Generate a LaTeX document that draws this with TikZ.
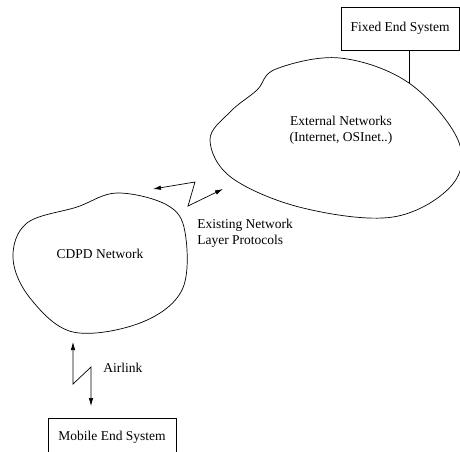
\documentclass[tikz,border=0pt]{standalone}
\usepackage{fontspec}
\setmainfont{Liberation Serif}
\usetikzlibrary{arrows.meta}
\begin{document}
\begin{tikzpicture}[x=1pt,y=-1pt,line width=0.7pt,
  font=\fontsize{13.5}{16.5}\selectfont,
  >={Latex[length=8pt,width=4.5pt]},
  endsys/.style={draw,minimum width=118pt,minimum height=43pt,inner sep=0pt},
  netcloud/.style={smooth cycle,tension=0.6}]
\useasboundingbox (0,0) rectangle (460,451);
\clip (0,0) rectangle (460,451);

\node[endsys] (fixed) at (400,28.5) {Fixed End System};
\node[endsys,minimum width=128pt,minimum height=38pt] (mobile) at (112,437) {Mobile End System};

\draw plot[netcloud] coordinates {(77,207) (117,193) (167,205) (185,232) (182,290)
  (140,323) (73,332) (30,298) (13,258) (27,223)};
\draw plot[netcloud] coordinates {(230,112) (257,90) (276,69) (340,58) (409,83)
  (458,140) (452,185) (393,217) (303,208) (232,178) (210,140)};

\node (cdpd) at (100,254) {CDPD Network};
\node[align=center] (ext) at (341,130) {External Networks\\(Internet, OSInet..)};
\node[anchor=base west,align=left,inner sep=0pt] (proto) at (197,244.5) {Existing Network\\Layer Protocols};
\node[anchor=west,inner sep=0pt] (air) at (103,368) {Airlink};

\coordinate (exttap) at (409,83);
\coordinate (netL) at (153,189);
\coordinate (netR) at (223,189);
\coordinate (airT) at (73,342);
\coordinate (airB) at (91,406);

\draw (fixed.south -| exttap) -- (exttap);
\draw[<->] (netL) -- (195,182) -- (188,206) -- (netR);
\draw[<->] (airT) -- (73,384) -- (91,367) -- (airB);
\end{tikzpicture}
\end{document}
